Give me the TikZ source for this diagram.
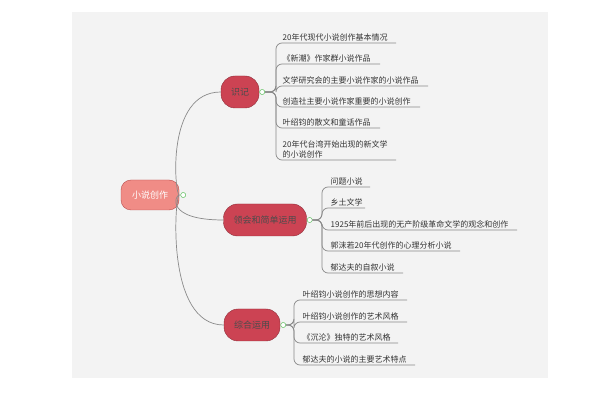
\documentclass[tikz,border=0pt]{standalone}
\usepackage{fontspec}
\setmainfont{Noto Sans CJK SC}
\usetikzlibrary{positioning,calc}
\definecolor{bgray}{HTML}{F3F3F3}
\definecolor{rootred}{HTML}{F08C86}
\definecolor{branchred}{HTML}{CC4353}
\definecolor{linkgray}{HTML}{8A8A8A}
\tikzset{
  root/.style={draw=red!60!black!70,fill=rootred,rounded corners=10pt,minimum width=58pt,minimum height=30pt,font=\fontsize{9}{10}\selectfont,text=white},
  branch/.style={draw=branchred!70!black,fill=branchred,rounded corners=14pt,minimum height=32pt,inner xsep=10pt,font=\fontsize{9}{10}\selectfont,text=black!70},
  leaf/.style={anchor=south west,inner sep=1.5pt,font=\fontsize{8}{10}\selectfont,text=black!80,align=left},
  link/.style={draw=linkgray,line width=0.7pt},
  knob/.style={circle,draw=green!60!black!60,fill=white,inner sep=0pt,minimum size=5pt}
}
\begin{document}
\begin{tikzpicture}[x=1pt,y=-1pt]
  \useasboundingbox (0,0) rectangle (600,403);
  \fill[white] (0,0) rectangle (600,403);
  \fill[bgray] (72,12) rectangle (548,378);
  % root and branches
  \node[root] (root) at (150,195) {小说创作};
  \node[branch] (b1) at (240,92) {识记};
  \node[branch] (b2) at (265,220) {领会和简单运用};
  \node[branch] (b3) at (252,325) {综合运用};
  \node[knob] (k0) at ($(root.east)+(4,0)$) {};
  \foreach \b in {b1,b2,b3}{
    \draw[link] (root.east) .. controls (175,195) and (165,0|-\b.west) .. (\b.west);
  }
  \node[knob] (k1) at ($(b1.east)+(3,0)$) {};
  \node[knob] (k2) at ($(b2.east)+(3,0)$) {};
  \node[knob] (k3) at ($(b3.east)+(3,0)$) {};
  % leaves of the first branch
  \foreach \t/\y/\e [count=\i] in {
      20年代现代小说创作基本情况/43/396,
      《新潮》作家群小说作品/64/380,
      文学研究会的主要小说作家的小说作品/86/428,
      创造社主要小说作家重要的小说创作/107/420,
      叶绍钧的散文和童话作品/128/380,
      {20年代台湾开始出现的新文学\\的小说创作}/160/396}{
    \node[leaf] (a\i) at (281,\y) {\t};
    \coordinate (ae\i) at (\e,\y);
    \draw[link,rounded corners=6pt] (k1.east) -| (276,\y) -- (ae\i);
  }
  % leaves of the second branch
  \foreach \t/\y/\e [count=\i] in {
      问题小说/187/370,
      乡土文学/208/365,
      1925年前后出现的无产阶级革命文学的观念和创作/230/517,
      郭沫若20年代创作的心理分析小说/251/460,
      郁达夫的自叙小说/273/403}{
    \node[leaf] (c\i) at (329,\y) {\t};
    \coordinate (ce\i) at (\e,\y);
    \draw[link,rounded corners=6pt] (k2.east) -| (322,\y) -- (ce\i);
  }
  % leaves of the third branch
  \foreach \t/\y/\e [count=\i] in {
      叶绍钧小说创作的思想内容/300/407,
      叶绍钧小说创作的艺术风格/322/407,
      《沉沦》独特的艺术风格/343/398,
      郁达夫的小说的主要艺术特点/365/415}{
    \node[leaf] (d\i) at (301,\y) {\t};
    \coordinate (de\i) at (\e,\y);
    \draw[link,rounded corners=6pt] (k3.east) -| (294,\y) -- (de\i);
  }
  \node[knob] at (k1) {};
  \node[knob] at (k2) {};
  \node[knob] at (k3) {};
  \node[knob] at (k0) {};
\end{tikzpicture}
\end{document}
